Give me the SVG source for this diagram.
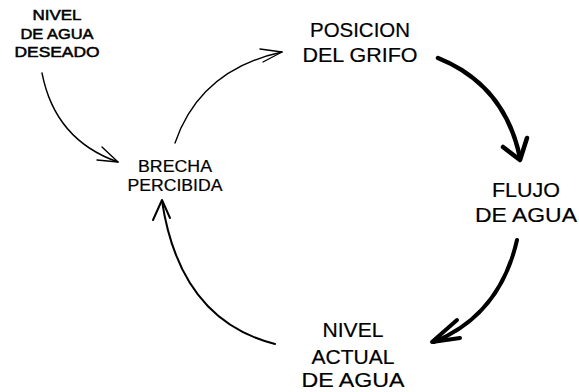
<svg xmlns="http://www.w3.org/2000/svg" width="579" height="392" viewBox="0 0 579 392">
<style>
text{font-family:"Liberation Sans",Arial,sans-serif;fill:#000;text-anchor:middle}
.s{font-size:14px;stroke:#000;stroke-width:0.5}
.m{font-size:16px;stroke:#000;stroke-width:0.2}
.l{font-size:21px;stroke:#000;stroke-width:0.2}
.thin{fill:none;stroke:#000;stroke-width:1.4;stroke-linecap:round;stroke-linejoin:round}
.mid{fill:none;stroke:#000;stroke-width:2;stroke-linecap:round;stroke-linejoin:round}
.thick{fill:none;stroke:#000;stroke-width:4.5;stroke-linecap:round;stroke-linejoin:round}
</style>
<rect width="579" height="392" fill="#fff"/>
<g id="deseado">
<text class="s" x="57" y="20" textLength="49" lengthAdjust="spacingAndGlyphs">NIVEL</text>
<text class="s" x="57" y="39" textLength="73" lengthAdjust="spacingAndGlyphs">DE AGUA</text>
<text class="s" x="57" y="57" textLength="85" lengthAdjust="spacingAndGlyphs">DESEADO</text>
</g>
<g id="brecha">
<text class="m" x="175" y="172" textLength="74" lengthAdjust="spacingAndGlyphs">BRECHA</text>
<text class="m" x="175" y="191" textLength="95" lengthAdjust="spacingAndGlyphs">PERCIBIDA</text>
</g>
<g id="posicion">
<text class="l" x="360" y="37" textLength="100" lengthAdjust="spacingAndGlyphs">POSICION</text>
<text class="l" x="360" y="62" textLength="115" lengthAdjust="spacingAndGlyphs">DEL GRIFO</text>
</g>
<g id="flujo">
<text class="l" x="526" y="197" textLength="68" lengthAdjust="spacingAndGlyphs">FLUJO</text>
<text class="l" x="526" y="222" textLength="102" lengthAdjust="spacingAndGlyphs">DE AGUA</text>
</g>
<g id="nivel-actual">
<text class="l" x="353" y="337" textLength="61" lengthAdjust="spacingAndGlyphs">NIVEL</text>
<text class="l" x="353" y="364" textLength="83" lengthAdjust="spacingAndGlyphs">ACTUAL</text>
<text class="l" x="353" y="387" textLength="103" lengthAdjust="spacingAndGlyphs">DE AGUA</text>
</g>
<g id="connectors">
<path class="thin" d="M42 73 Q55 140 118 162"/>
<path class="thin" d="M102 147 L118 162 L97 160"/>
<path class="thin" d="M175 143 Q200 70 282 52"/>
<path class="thin" d="M260 49 L282 52 L263 62"/>
<path class="thick" d="M438 58 Q505 85 520 158"/>
<path class="thick" d="M503 147 L520 160 L527 138"/>
<path class="thick" d="M517 240 Q500 315 434 342" style="stroke-width:4"/>
<path class="thick" d="M457 320 L432 342 L460 338" style="stroke-width:4"/>
<path class="mid" d="M275 344 Q180 320 162 201"/>
<path class="mid" d="M153 220 L162 200 L170 218"/>
</g>
</svg>
